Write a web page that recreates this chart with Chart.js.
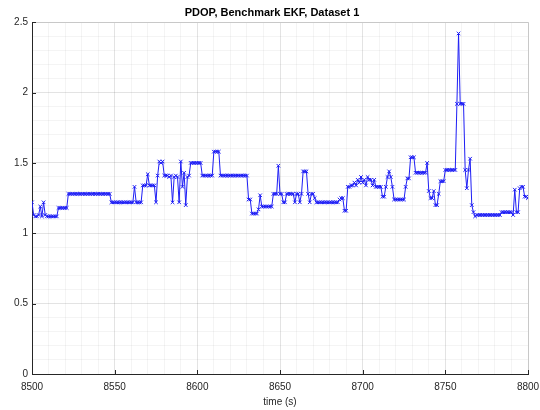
<!DOCTYPE html>
<html>
<head>
<meta charset="utf-8">
<script src="https://cdn.jsdelivr.net/npm/chart.js@4"></script>
<style>
html, body { margin: 0; padding: 0; background: #fff; }
</style>
</head>
<body>
<canvas id="pdopChart" width="540" height="410"></canvas>
<script>
// PDOP per second, t = 8500 ... 8800
const startTime = 8500;
const pdopValues = [
    1.22, 1.13, 1.12, 1.12, 1.13, 1.19, 1.12, 1.22, 1.13, 1.12,
    1.12, 1.12, 1.12, 1.12, 1.12, 1.12, 1.18, 1.18, 1.18, 1.18,
    1.18, 1.18, 1.28, 1.28, 1.28, 1.28, 1.28, 1.28, 1.28, 1.28,
    1.28, 1.28, 1.28, 1.28, 1.28, 1.28, 1.28, 1.28, 1.28, 1.28,
    1.28, 1.28, 1.28, 1.28, 1.28, 1.28, 1.28, 1.28, 1.22, 1.22,
    1.22, 1.22, 1.22, 1.22, 1.22, 1.22, 1.22, 1.22, 1.22, 1.22,
    1.22, 1.22, 1.33, 1.22, 1.22, 1.22, 1.22, 1.34, 1.34, 1.34,
    1.42, 1.34, 1.34, 1.34, 1.34, 1.22, 1.41, 1.51, 1.50, 1.51,
    1.41, 1.41, 1.41, 1.40, 1.41, 1.22, 1.40, 1.41, 1.40, 1.22,
    1.51, 1.33, 1.43, 1.20, 1.40, 1.41, 1.50, 1.50, 1.50, 1.50,
    1.50, 1.50, 1.50, 1.41, 1.41, 1.41, 1.41, 1.41, 1.41, 1.41,
    1.58, 1.58, 1.58, 1.58, 1.41, 1.41, 1.41, 1.41, 1.41, 1.41,
    1.41, 1.41, 1.41, 1.41, 1.41, 1.41, 1.41, 1.41, 1.41, 1.41,
    1.41, 1.24, 1.24, 1.14, 1.14, 1.14, 1.14, 1.17, 1.27, 1.19,
    1.19, 1.19, 1.19, 1.19, 1.19, 1.19, 1.28, 1.28, 1.28, 1.48,
    1.28, 1.28, 1.22, 1.22, 1.28, 1.28, 1.28, 1.28, 1.28, 1.22,
    1.28, 1.28, 1.22, 1.28, 1.44, 1.44, 1.44, 1.28, 1.22, 1.28,
    1.28, 1.25, 1.22, 1.22, 1.22, 1.22, 1.22, 1.22, 1.22, 1.22,
    1.22, 1.22, 1.22, 1.22, 1.22, 1.22, 1.24, 1.25, 1.25, 1.16,
    1.16, 1.33, 1.33, 1.34, 1.34, 1.36, 1.34, 1.38, 1.36, 1.40,
    1.36, 1.38, 1.34, 1.40, 1.38, 1.38, 1.34, 1.38, 1.33, 1.33,
    1.33, 1.33, 1.26, 1.26, 1.33, 1.40, 1.44, 1.40, 1.33, 1.24,
    1.24, 1.24, 1.24, 1.24, 1.24, 1.24, 1.33, 1.39, 1.39, 1.54,
    1.54, 1.54, 1.43, 1.43, 1.43, 1.43, 1.43, 1.43, 1.43, 1.50,
    1.30, 1.25, 1.25, 1.30, 1.20, 1.20, 1.28, 1.37, 1.37, 1.37,
    1.45, 1.45, 1.45, 1.45, 1.45, 1.45, 1.45, 1.92, 2.42, 1.92,
    1.92, 1.92, 1.45, 1.32, 1.45, 1.53, 1.20, 1.15, 1.12, 1.13,
    1.13, 1.13, 1.13, 1.13, 1.13, 1.13, 1.13, 1.13, 1.13, 1.13,
    1.13, 1.13, 1.13, 1.13, 1.15, 1.15, 1.15, 1.15, 1.15, 1.15,
    1.15, 1.13, 1.31, 1.15, 1.15, 1.32, 1.33, 1.33, 1.26, 1.26,
    1.25
];
const xTickLabels = [8500, 8550, 8600, 8650, 8700, 8750, 8800];
const yTickLabels = [0, 0.5, 1, 1.5, 2, 2.5];

const pdopPoints = pdopValues.map((v, i) => ({ x: startTime + i, y: v }));

const isMajor = (value, list) => list.some(t => Math.abs(t - value) < 1e-6);

// MATLAB style box and inward tick marks
const axesBox = {
    id: 'axesBox',
    afterDraw(chart) {
        const { ctx, chartArea: a, scales } = chart;
        ctx.save();
        ctx.lineWidth = 1;
        ctx.strokeStyle = '#c8c8c8';
        ctx.beginPath();
        ctx.moveTo(Math.round(a.left), Math.round(a.top) + 0.5);
        ctx.lineTo(Math.round(a.right) + 0.5, Math.round(a.top) + 0.5);
        ctx.lineTo(Math.round(a.right) + 0.5, Math.round(a.bottom));
        ctx.stroke();
        ctx.strokeStyle = '#262626';
        ctx.beginPath();
        xTickLabels.forEach(t => {
            const px = Math.round(scales.x.getPixelForValue(t)) + 0.5;
            ctx.moveTo(px, a.bottom);
            ctx.lineTo(px, a.bottom - 4);
        });
        yTickLabels.forEach(t => {
            const py = Math.round(scales.y.getPixelForValue(t)) + 0.5;
            ctx.moveTo(a.left, py);
            ctx.lineTo(a.left + 4, py);
        });
        ctx.stroke();
        ctx.restore();
    }
};

const ctx = document.getElementById('pdopChart').getContext('2d');

const pdopChart = new Chart(ctx, {
    type: 'line',
    data: {
        datasets: [{
            data: pdopPoints,
            borderColor: 'rgb(30, 30, 245)',
            backgroundColor: 'rgb(30, 30, 245)',
            borderWidth: 1,
            pointStyle: 'crossRot',
            pointRadius: 2.5,
            pointBorderWidth: 1,
            tension: 0,
            fill: false
        }]
    },
    options: {
        responsive: false,
        animation: false,
        layout: { padding: { left: 4, right: 0, top: 0, bottom: 0 } },
        plugins: {
            legend: { display: false },
            tooltip: { enabled: false },
            title: {
                display: true,
                text: 'PDOP, Benchmark EKF, Dataset 1',
                color: '#000',
                font: { family: 'Liberation Sans, Arial, sans-serif', size: 11, weight: 'bold' },
                padding: { top: 6, bottom: 3 }
            }
        },
        scales: {
            x: {
                type: 'linear',
                min: 8500,
                max: 8800,
                afterFit: scale => {
                    scale.height = 36;
                    scale.paddingLeft = 0;
                    scale.paddingRight = 12;
                },
                ticks: {
                    stepSize: 10,
                    maxTicksLimit: 100,
                    autoSkip: false,
                    maxRotation: 0,
                    padding: 7,
                    color: '#262626',
                    font: { family: 'Liberation Sans, Arial, sans-serif', size: 10 },
                    callback: value => isMajor(value, xTickLabels) ? String(value) : ''
                },
                grid: {
                    drawTicks: false,
                    color: c => isMajor(c.tick.value, xTickLabels) ? 'rgba(0,0,0,0.11)' : 'rgba(0,0,0,0.045)'
                },
                border: { color: '#262626', width: 1 },
                title: {
                    display: true,
                    text: 'time (s)',
                    color: '#262626',
                    font: { family: 'Liberation Sans, Arial, sans-serif', size: 10 },
                    padding: { top: 0, bottom: 2 }
                }
            },
            y: {
                min: 0,
                max: 2.5,
                afterFit: scale => { scale.width = 28; },
                ticks: {
                    stepSize: 0.1,
                    maxTicksLimit: 100,
                    autoSkip: false,
                    padding: 4,
                    color: '#262626',
                    font: { family: 'Liberation Sans, Arial, sans-serif', size: 10 },
                    callback: value => isMajor(value, yTickLabels) ? String(Math.round(value * 10) / 10) : ''
                },
                grid: {
                    drawTicks: false,
                    color: c => isMajor(c.tick.value, yTickLabels) ? 'rgba(0,0,0,0.11)' : 'rgba(0,0,0,0.045)'
                },
                border: { color: '#262626', width: 1 }
            }
        }
    },
    plugins: [axesBox]
});
</script>
</body>
</html>
